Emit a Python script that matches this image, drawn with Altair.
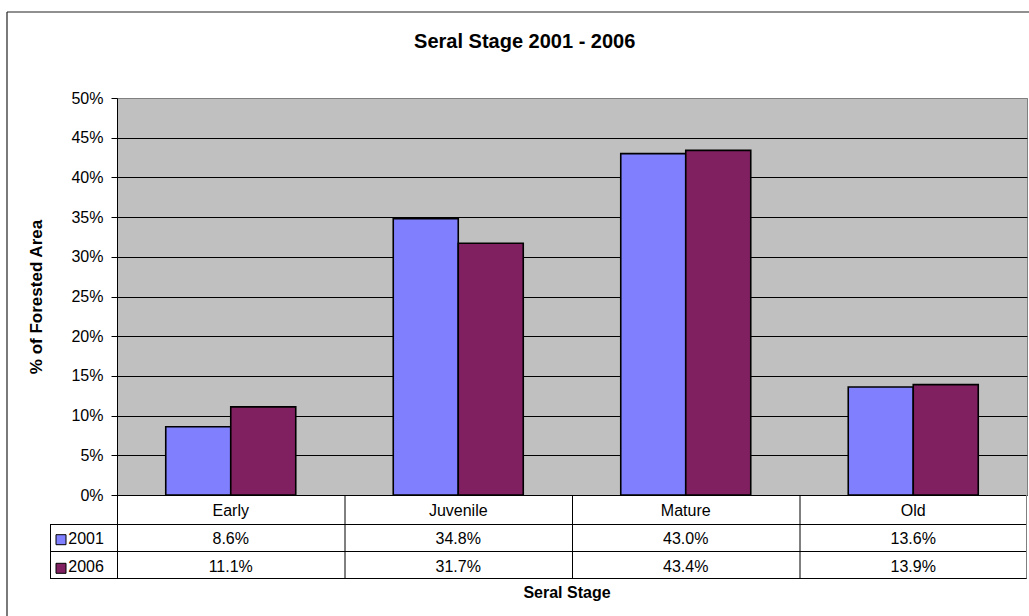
import altair as alt
import pandas as pd

# Share of forested area (%) by seral stage
stages = ["Early", "Juvenile", "Mature", "Old"]
years = ["2001", "2006"]
share_2001 = [8.6, 34.8, 43.0, 13.6]
share_2006 = [11.1, 31.7, 43.4, 13.9]
year_colors = ["#8080FF", "#802060"]
y_ticks = [0, 5, 10, 15, 20, 25, 30, 35, 40, 45, 50]

FONT = "Liberation Sans"
W, H = 910, 397            # plot area
STEP = W / len(stages)     # width of one category column
ROW1, ROW2, ROW3 = H + 29, H + 56, H + 83   # data-table row bottoms
KEY_X = -67                # left edge of the series-name column

rows = []
for yr, vals in zip(years, [share_2001, share_2006]):
    for s, v in zip(stages, vals):
        rows.append({"Stage": s, "Year": yr, "Share": v})
df = pd.DataFrame(rows)

x_stage = alt.X(
    "Stage:N", sort=stages, axis=None,
    scale=alt.Scale(paddingInner=1.5 / 3.5, paddingOuter=0.75 / 3.5),
)
color_year = alt.Color(
    "Year:N", scale=alt.Scale(domain=years, range=year_colors), legend=None
)

bars = alt.Chart(df).mark_bar(stroke="black", strokeWidth=1.6).encode(
    x=x_stage,
    xOffset=alt.XOffset("Year:N", sort=years,
                        scale=alt.Scale(paddingInner=0, paddingOuter=0)),
    y=alt.Y(
        "Share:Q",
        scale=alt.Scale(domain=[0, 50], nice=False),
        axis=alt.Axis(
            values=y_ticks,
            labelExpr="datum.value + '%'",
            title=None,
            grid=True,
            gridColor={"condition": {"test": "datum.value === 50", "value": "#808080"},
                       "value": "black"},
            gridWidth=1,
            domainColor="black",
            tickColor="black",
            tickSize=6,
            labelFont=FONT,
            labelFontSize=16,
            labelColor="black",
            labelPadding=8,
        ),
    ),
    color=color_year,
)


def one_row():
    return alt.Chart(pd.DataFrame({"k": [0]}))


def segment(x1, x2, y1, y2, color="black", width=1.0):
    return one_row().mark_rule(color=color, strokeWidth=width).encode(
        x=alt.value(x1), x2=alt.value(x2), y=alt.value(y1), y2=alt.value(y2)
    )


def label(text, x, y, size=16, weight="normal", align="center",
          baseline="alphabetic", angle=0):
    return one_row().mark_text(
        text=text, font=FONT, fontSize=size, fontWeight=weight, align=align,
        baseline=baseline, angle=angle, color="black",
    ).encode(x=alt.value(x), y=alt.value(y))


layers = [bars]

# Data table grid below the plot
layers.append(segment(0, W, H + 0.5, H + 0.5))
for yy in (ROW1, ROW2, ROW3):
    layers.append(segment(KEY_X, W, yy + 0.5, yy + 0.5))
layers.append(segment(KEY_X + 0.5, KEY_X + 0.5, ROW1, ROW3))
for i in range(len(stages)):
    xx = i * STEP + 0.5
    layers.append(segment(xx, xx, H, ROW3))
layers.append(segment(W - 0.5, W - 0.5, H, ROW3 + 0.5, color="#808080"))

# Category names in the table header row
layers.append(
    alt.Chart(pd.DataFrame({"Stage": stages})).mark_text(
        font=FONT, fontSize=16, baseline="alphabetic", color="black"
    ).encode(x=alt.X("Stage:N", sort=stages, axis=None),
             y=alt.value(ROW1 - 8.3), text="Stage:N")
)

# One table row of values per year, with its colour key
for yr, base, key_y in zip(years, [ROW2 - 7, ROW3 - 6.5], [ROW2 - 11.3, ROW3 - 9.7]):
    layers.append(
        alt.Chart(df).transform_filter(alt.datum.Year == yr).transform_calculate(
            label="format(datum.Share, '.1f') + '%'"
        ).mark_text(font=FONT, fontSize=16, baseline="alphabetic", color="black").encode(
            x=alt.X("Stage:N", sort=stages, axis=None),
            y=alt.value(base),
            text="label:N",
        )
    )
    layers.append(
        alt.Chart(pd.DataFrame({"Year": [yr]})).mark_square(
            size=100, stroke="black", strokeWidth=1, opacity=1
        ).encode(x=alt.value(-56), y=alt.value(key_y), color=color_year)
    )
    layers.append(label(yr, -48.7, base, align="left"))

# Titles
layers.append(label("Seral Stage 2001 - 2006", 407.7, -50.3, size=20, weight="bold"))
layers.append(label("% of Forested Area", -80, H / 2 + 0.5, size=17, weight="bold",
                    baseline="middle", angle=270))
layers.append(label("Seral Stage", 450, ROW3 + 20.3, weight="bold"))

# Chart-area frame
layers.append(segment(-110, 930, -86, -86, color="#222222", width=1.2))
layers.append(segment(-110, -110, -86, 540, color="#222222", width=1.2))

chart = alt.layer(*layers).properties(
    width=W,
    height=H,
    padding={"left": 117, "top": 98, "right": 2, "bottom": 121},
    autosize=alt.AutoSizeParams(type="none"),
    background="white",
).configure_view(fill="#C0C0C0", stroke="#808080", strokeWidth=1)

chart.save("out.html", embed_options={"renderer": "svg", "actions": False})
